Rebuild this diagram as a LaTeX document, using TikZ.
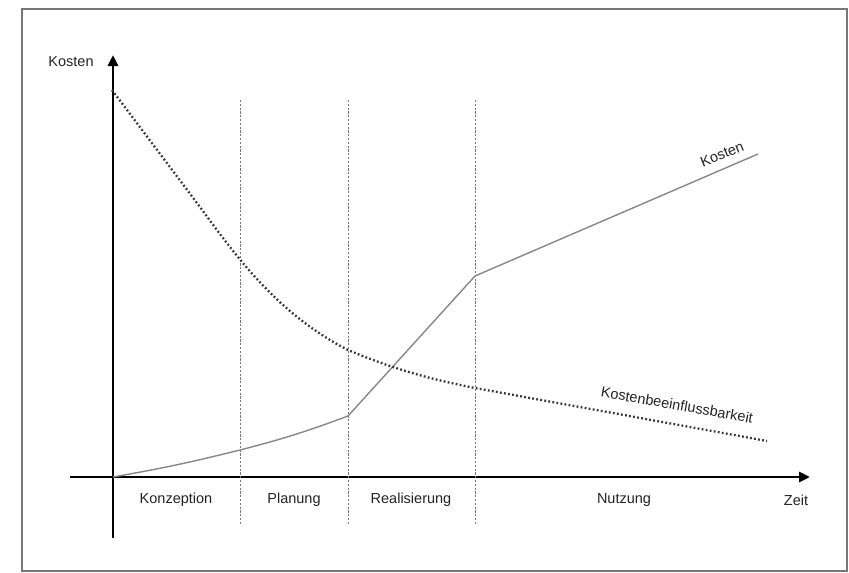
\documentclass[tikz,border=0pt]{standalone}
\usepackage{fontspec}
\setmainfont{Liberation Sans}
\usetikzlibrary{arrows.meta}
\definecolor{framegray}{RGB}{120,120,120}
\definecolor{costgray}{RGB}{135,135,135}
\definecolor{dotgray}{RGB}{55,55,55}
\definecolor{txt}{RGB}{35,35,35}
\begin{document}
\begin{tikzpicture}[x=1pt,y=-1pt,
  axis/.style={line width=2.8pt,black,-{Triangle[length=11pt,width=10pt]}},
  phase/.style={dash pattern=on 2.2pt off 1.6pt,line width=0.9pt,framegray},
  costline/.style={line width=1.4pt,costgray},
  influence/.style={line width=2.3pt,dotgray,dash pattern=on 1.8pt off 2.3pt},
  lbl/.style={font=\fontsize{14.5}{16}\selectfont,text=txt,inner sep=1pt}]
\useasboundingbox (0,0) rectangle (849,573);
\draw[framegray,line width=1.5pt] (22,9) rectangle (847,571);
% axes
\coordinate (yb) at (113,538);
\coordinate (yt) at (113,55);
\coordinate (xl) at (70,477);
\coordinate (xr) at (810,477);
\draw[axis] (yb) -- (yt);
\draw[axis] (xl) -- (xr);
\node[lbl] (ylab) at (71,62) {Kosten};
\node[lbl] (xlab) at (796,500) {Zeit};
% phase lines
\coordinate (p1t) at (240,100); \coordinate (p1b) at (240,525);
\coordinate (p2t) at (348,100); \coordinate (p2b) at (348,525);
\coordinate (p3t) at (475,100); \coordinate (p3b) at (475,525);
\draw[phase] (p1t) -- (p1b);
\draw[phase] (p2t) -- (p2b);
\draw[phase] (p3t) -- (p3b);
\node[lbl] (konz) at (176,500) {Konzeption};
\node[lbl] (plan) at (294,500) {Planung};
\node[lbl] (real) at (411,500) {Realisierung};
\node[lbl] (nutz) at (624,500) {Nutzung};
% cost line
\coordinate (c0) at (113,477);
\coordinate (c1) at (240,450);
\coordinate (c2) at (348,416);
\coordinate (c3) at (475,276);
\coordinate (c4) at (758,154);
\draw[costline] (c0) to[bend right=2] (c1) to[bend right=3] (c2) -- (c3) -- (c4);
\node[lbl,rotate=22] (klab) at (722,154) {Kosten};
% influence curve
\coordinate (i0) at (112,90);
\coordinate (i1) at (240,263);
\coordinate (i2) at (348,350);
\coordinate (i3) at (475,388);
\coordinate (i4) at (767,441);
\draw[influence] (i0) -- (200,207) .. controls (240,262) and (280,315) .. (i2)
  .. controls (400,372) and (440,381) .. (i3) -- (i4);
\node[lbl,rotate=-10] (blab) at (677,405) {Kostenbeeinflussbarkeit};
\end{tikzpicture}
\end{document}
